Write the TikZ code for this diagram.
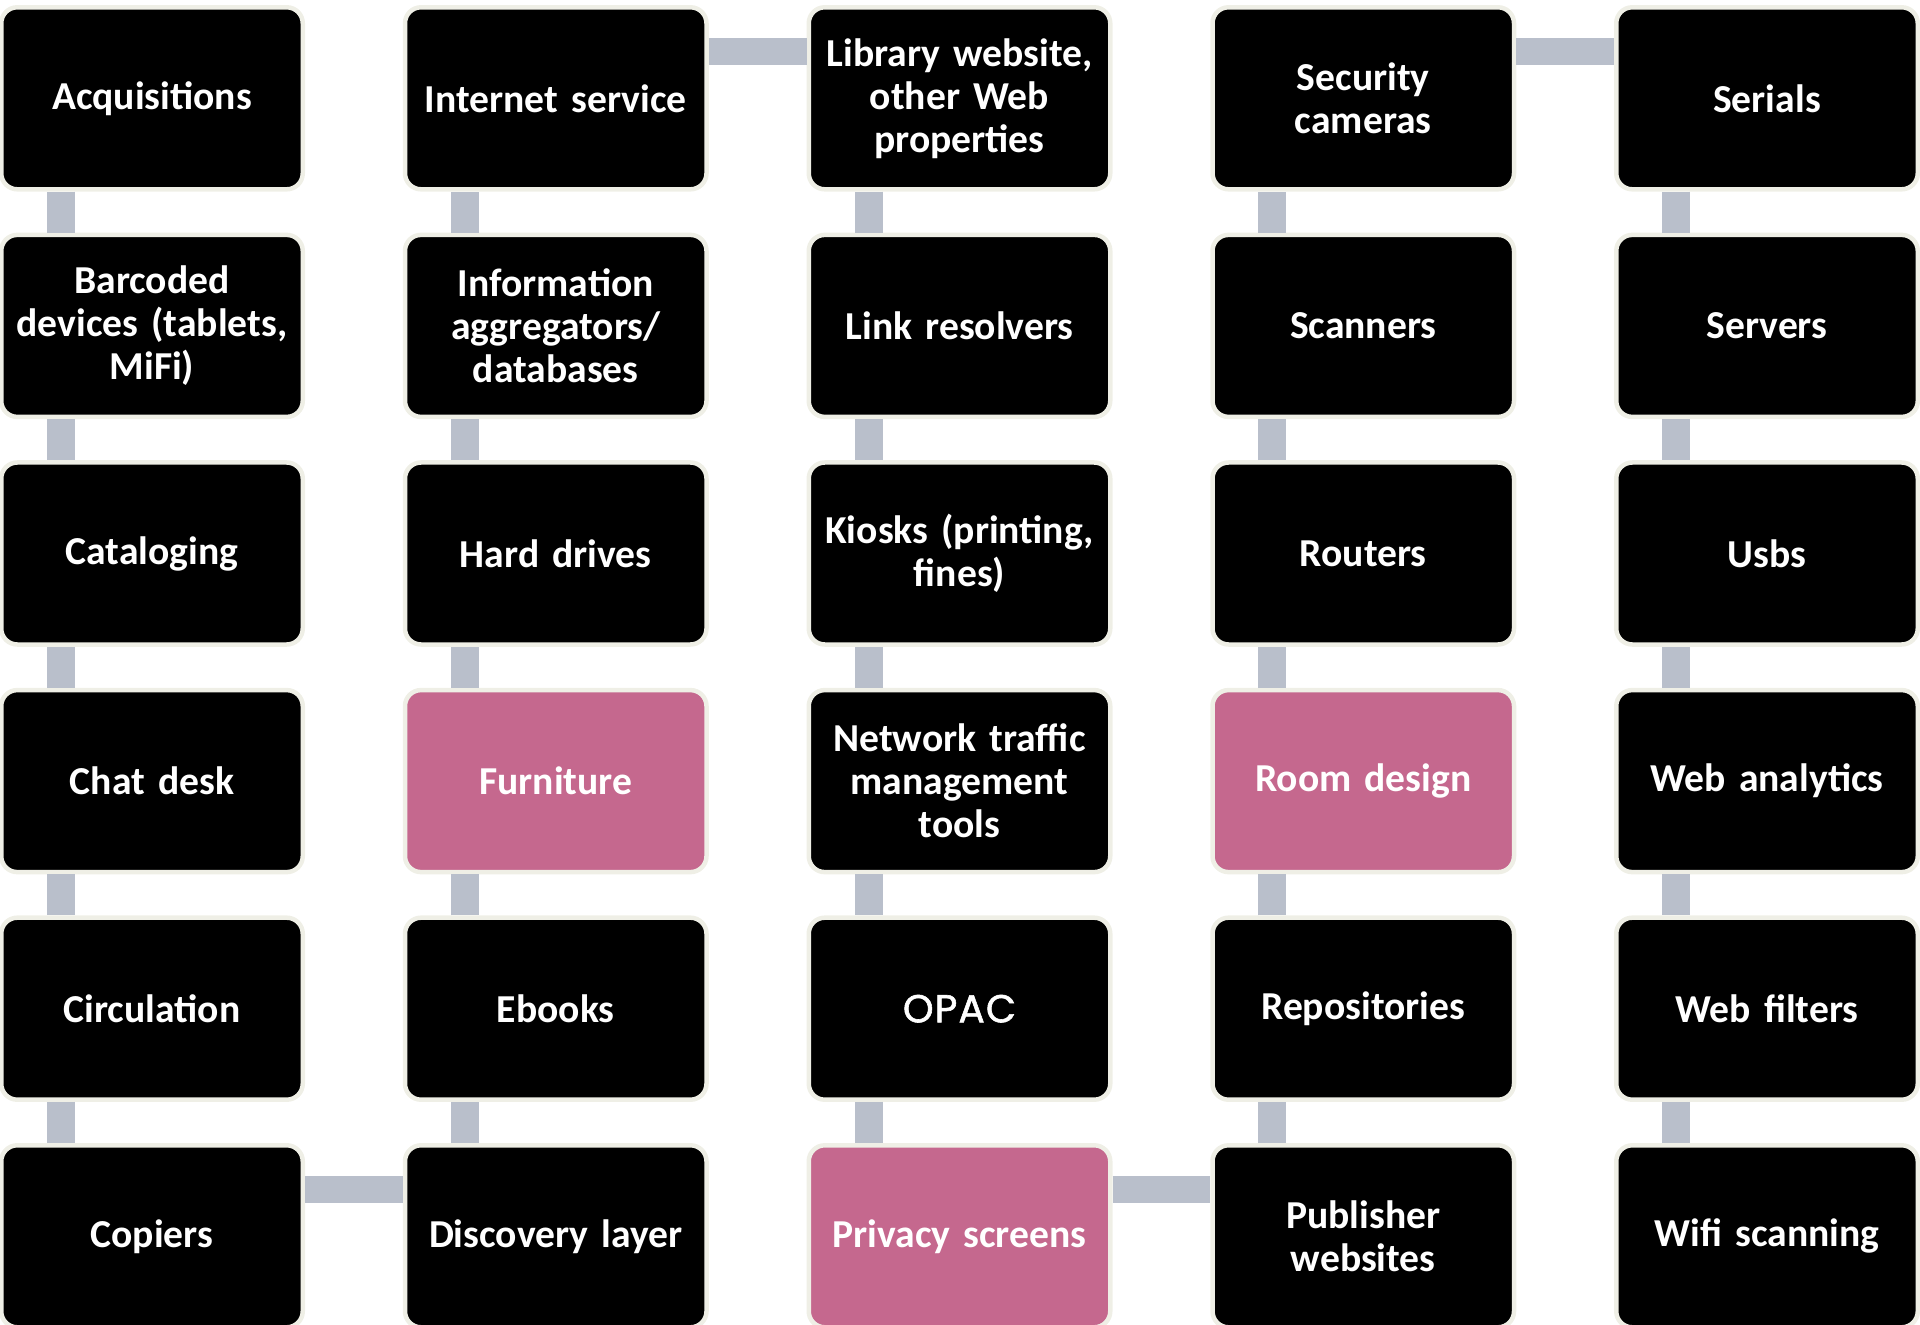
\documentclass[tikz,border=0pt]{standalone}
\usepackage{fontspec}
\setmainfont{Carlito}[WordSpace=0.85]
\newfontfamily\opacfont[LetterSpace=3, FakeBold=1.5]{Poppins}
\definecolor{boxrim}{HTML}{EFEFE6}
\definecolor{linkgray}{HTML}{B9BFCB}
\definecolor{rose}{HTML}{C5688E}

\begin{document}
\begin{tikzpicture}[x=0.5pt, y=0.5pt,
	item/.style={draw=boxrim, line width=2.25pt, fill=black, rounded corners=8pt,
		minimum width=150.75pt, minimum height=91pt, inner xsep=2pt, text width=144pt, align=center,
		text=white, font=\fontsize{19.8}{21.5}\selectfont\bfseries},
	hot/.style={item, fill=rose},
	vlink/.style={linkgray, line width=14pt},
	hlink/.style={linkgray, line width=13.5pt}]

	\useasboundingbox (0,0) rectangle (1920,-1325);

	% first column, going down
	\node[item] (acq) at (152,-98.3) {Acquisitions};
	\node[item] (barcode) at (152,-325.9) {Barcoded\\ devices (tablets,\\ MiFi)};
	\node[item] (catalog) at (152,-553.5) {Cataloging};
	\node[item] (chat) at (152,-781.1) {Chat desk};
	\node[item] (circ) at (152,-1008.7) {Circulation};
	\node[item] (copiers) at (152,-1236.3) {Copiers};

	% second column, going up
	\node[item] (discovery) at (555.75,-1236.3) {Discovery layer};
	\node[item] (ebooks) at (555.75,-1008.7) {Ebooks};
	\node[hot] (furniture) at (555.75,-781.1) {Furniture};
	\node[item] (drives) at (555.75,-553.5) {Hard drives};
	\node[item] (aggreg) at (555.75,-325.9) {Information\\ aggregators/\\ databases};
	\node[item] (internet) at (555.75,-98.3) {Internet service};

	% third column, going down
	\node[item] (libweb) at (959.5,-98.3) {Library website,\\ other Web\\ properties};
	\node[item] (linkres) at (959.5,-325.9) {Link resolvers};
	\node[item] (kiosks) at (959.5,-553.5) {Kiosks (printing,\\ fines)};
	\node[item] (traffic) at (959.5,-781.1) {Network traffic\\ management\\ tools};
	\node[item, font=\fontsize{19.5}{22}\selectfont\opacfont] (opac) at (959.5,-1008.7) {OPAC};
	\node[hot] (privacy) at (959.5,-1236.3) {Privacy screens};

	% fourth column, going up
	\node[item] (pubweb) at (1363.25,-1236.3) {Publisher\\ websites};
	\node[item] (repos) at (1363.25,-1008.7) {Repositories};
	\node[hot] (roomdes) at (1363.25,-781.1) {Room design};
	\node[item] (routers) at (1363.25,-553.5) {Routers};
	\node[item] (scanners) at (1363.25,-325.9) {Scanners};
	\node[item] (cameras) at (1363.25,-98.3) {Security\\ cameras};

	% fifth column, going down
	\node[item] (serials) at (1767,-98.3) {Serials};
	\node[item] (servers) at (1767,-325.9) {Servers};
	\node[item] (usbs) at (1767,-553.5) {Usbs};
	\node[item] (analytics) at (1767,-781.1) {Web analytics};
	\node[item] (filters) at (1767,-1008.7) {Web filters};
	\node[item] (wifi) at (1767,-1236.3) {Wifi scanning};

	% bars inside the columns
	\draw[vlink] ([xshift=31pt]acq.south west) -- ([xshift=31pt]barcode.north west);
	\draw[vlink] ([xshift=31pt]barcode.south west) -- ([xshift=31pt]catalog.north west);
	\draw[vlink] ([xshift=31pt]catalog.south west) -- ([xshift=31pt]chat.north west);
	\draw[vlink] ([xshift=31pt]chat.south west) -- ([xshift=31pt]circ.north west);
	\draw[vlink] ([xshift=31pt]circ.south west) -- ([xshift=31pt]copiers.north west);

	\draw[vlink] ([xshift=31pt]discovery.north west) -- ([xshift=31pt]ebooks.south west);
	\draw[vlink] ([xshift=31pt]ebooks.north west) -- ([xshift=31pt]furniture.south west);
	\draw[vlink] ([xshift=31pt]furniture.north west) -- ([xshift=31pt]drives.south west);
	\draw[vlink] ([xshift=31pt]drives.north west) -- ([xshift=31pt]aggreg.south west);
	\draw[vlink] ([xshift=31pt]aggreg.north west) -- ([xshift=31pt]internet.south west);

	\draw[vlink] ([xshift=31pt]libweb.south west) -- ([xshift=31pt]linkres.north west);
	\draw[vlink] ([xshift=31pt]linkres.south west) -- ([xshift=31pt]kiosks.north west);
	\draw[vlink] ([xshift=31pt]kiosks.south west) -- ([xshift=31pt]traffic.north west);
	\draw[vlink] ([xshift=31pt]traffic.south west) -- ([xshift=31pt]opac.north west);
	\draw[vlink] ([xshift=31pt]opac.south west) -- ([xshift=31pt]privacy.north west);

	\draw[vlink] ([xshift=31pt]pubweb.north west) -- ([xshift=31pt]repos.south west);
	\draw[vlink] ([xshift=31pt]repos.north west) -- ([xshift=31pt]roomdes.south west);
	\draw[vlink] ([xshift=31pt]roomdes.north west) -- ([xshift=31pt]routers.south west);
	\draw[vlink] ([xshift=31pt]routers.north west) -- ([xshift=31pt]scanners.south west);
	\draw[vlink] ([xshift=31pt]scanners.north west) -- ([xshift=31pt]cameras.south west);

	\draw[vlink] ([xshift=31pt]serials.south west) -- ([xshift=31pt]servers.north west);
	\draw[vlink] ([xshift=31pt]servers.south west) -- ([xshift=31pt]usbs.north west);
	\draw[vlink] ([xshift=31pt]usbs.south west) -- ([xshift=31pt]analytics.north west);
	\draw[vlink] ([xshift=31pt]analytics.south west) -- ([xshift=31pt]filters.north west);
	\draw[vlink] ([xshift=31pt]filters.south west) -- ([xshift=31pt]wifi.north west);

	% bends from one column to the next
	\draw[hlink] ([yshift=23.4pt]copiers.east) -- ([yshift=23.4pt]discovery.west);
	\draw[hlink] ([yshift=23.4pt]internet.east) -- ([yshift=23.4pt]libweb.west);
	\draw[hlink] ([yshift=23.4pt]privacy.east) -- ([yshift=23.4pt]pubweb.west);
	\draw[hlink] ([yshift=23.4pt]cameras.east) -- ([yshift=23.4pt]serials.west);

\end{tikzpicture}
\end{document}
